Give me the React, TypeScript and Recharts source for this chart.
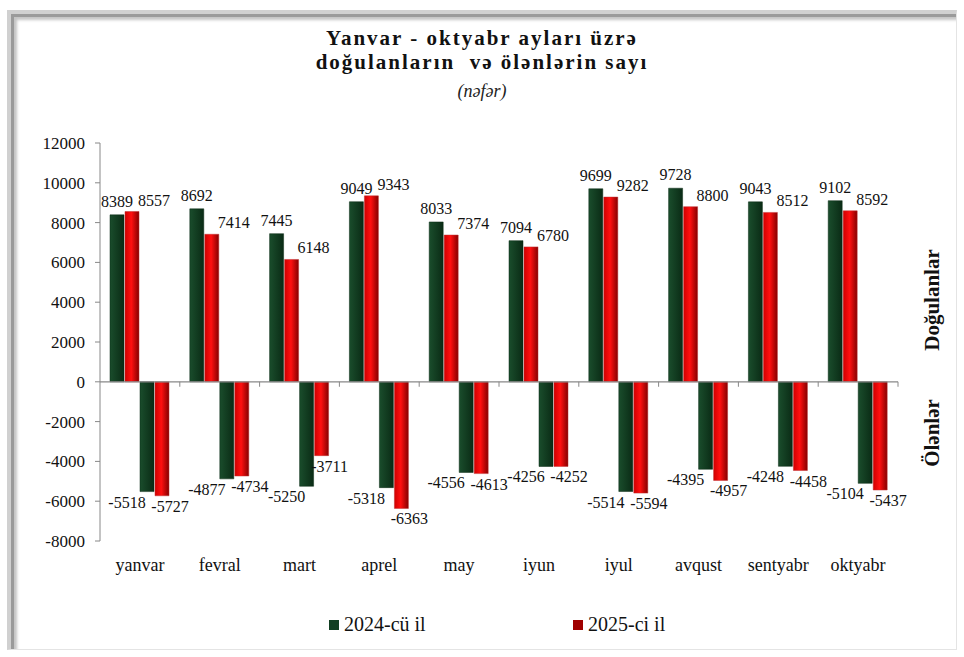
import { BarChart, Bar, XAxis, YAxis, ReferenceLine, LabelList } from 'recharts';

const months = ['yanvar', 'fevral', 'mart', 'aprel', 'may', 'iyun', 'iyul', 'avqust', 'sentyabr', 'oktyabr'];
const births2024 = [8389, 8692, 7445, 9049, 8033, 7094, 9699, 9728, 9043, 9102];
const births2025 = [8557, 7414, 6148, 9343, 7374, 6780, 9282, 8800, 8512, 8592];
const deaths2024 = [-5518, -4877, -5250, -5318, -4556, -4256, -5514, -4395, -4248, -5104];
const deaths2025 = [-5727, -4734, -3711, -6363, -4613, -4252, -5594, -4957, -4458, -5437];
const yTicks = [-8000, -6000, -4000, -2000, 0, 2000, 4000, 6000, 8000, 10000, 12000];

const data = months.map((m, i) => ({
  month: m,
  b24: births2024[i],
  b25: births2025[i],
  d24: deaths2024[i],
  d25: deaths2025[i],
}));

const FONT = '"Liberation Serif", "Times New Roman", serif';
const GREEN = '#123f22';
const RED = '#a00000';

// label placement, roughly as Excel left them
function makeLabel(dx: number, above: boolean, dyAbove = 8) {
  return (p: any) => {
    const x = Number(p.x) + Number(p.width) / 2 + dx;
    const y = Number(p.y);
    const h = Number(p.height);
    const top = Math.min(y, y + h);
    const bottom = Math.max(y, y + h);
    return (
      <text
        x={x}
        y={above ? top - dyAbove : bottom + 16}
        textAnchor="middle"
        fontSize={16}
        fontFamily={FONT}
        fill="#111"
      >
        {p.value}
      </text>
    );
  };
}

const titleLine = {
  position: 'absolute' as const,
  left: 0,
  width: 964,
  height: 23,
  textAlign: 'center' as const,
  fontFamily: FONT,
  fontWeight: 'bold' as const,
  fontSize: 21,
  letterSpacing: 2,
  lineHeight: '23px',
  color: '#111',
  whiteSpace: 'pre' as const,
};

export default function App() {
  return (
    <div style={{ position: 'absolute', left: 0, top: 0, width: 964, height: 657, background: '#fff', fontFamily: FONT }}>
      {/* bevelled frame */}
      <div
        style={{
          position: 'absolute',
          left: 7,
          top: 10,
          width: 950,
          height: 640,
          borderLeft: '4px solid #d0d0d0',
          borderTop: '4px solid #d0d0d0',
          borderRight: '1px solid #e4e4e4',
          borderBottom: '1px solid #e4e4e4',
          boxSizing: 'border-box',
        }}
      >
        <div
          style={{
            position: 'absolute',
            left: 0,
            top: 0,
            right: 0,
            bottom: 0,
            borderLeft: '3px solid #9a9a9a',
            borderTop: '3px solid #9a9a9a',
            boxShadow: 'inset 3px 3px 3px #c4c4c4',
          }}
        />
      </div>

      <div style={{ ...titleLine, top: 27 }}>Yanvar - oktyabr ayları üzrə</div>
      <div style={{ ...titleLine, top: 51 }}>doğulanların  və ölənlərin sayı</div>
      <div style={{ position: 'absolute', left: 0, width: 964, top: 81, lineHeight: '20px', textAlign: 'center', fontFamily: FONT, fontStyle: 'italic', fontSize: 18, color: '#222' }}>
        (nəfər)
      </div>

      <div style={{ position: 'absolute', left: 0, top: 0 }}>
        <BarChart
          width={964}
          height={657}
          data={data}
          margin={{ top: 143, right: 66, bottom: 86, left: 40 }}
          barSize={14}
          barGap={1}
        >
          <defs>
            <linearGradient id="gGreen" x1="0" y1="0" x2="1" y2="0">
              <stop offset="0%" stopColor="#1a4d2c" />
              <stop offset="100%" stopColor="#0a2b15" />
            </linearGradient>
            <linearGradient id="gRed" x1="0" y1="0" x2="1" y2="0">
              <stop offset="0%" stopColor="#d00000" />
              <stop offset="45%" stopColor="#ff1010" />
              <stop offset="100%" stopColor="#850000" />
            </linearGradient>
          </defs>
          <XAxis
            dataKey="month"
            axisLine={false}
            tickLine={false}
            tickSize={0}
            tickMargin={17}
            height={30}
            interval={0}
            tick={{ fontSize: 18, fill: '#111', fontFamily: FONT }}
          />
          <YAxis
            domain={[-8000, 12000]}
            ticks={yTicks}
            width={60}
            tickSize={5}
            tickMargin={10}
            stroke="#888"
            tick={{ fontSize: 17, fill: '#111', fontFamily: FONT }}
            interval={0}
          />
          <Bar dataKey="b24" fill="url(#gGreen)" stroke="#0a2a14" strokeWidth={0.5} isAnimationActive={false}>
            <LabelList dataKey="b24" content={makeLabel(0, true)} />
          </Bar>
          <Bar dataKey="b25" fill="url(#gRed)" stroke="#c03030" strokeWidth={0.5} isAnimationActive={false}>
            <LabelList dataKey="b25" content={makeLabel(22, true, 6)} />
          </Bar>
          <Bar dataKey="d24" fill="url(#gGreen)" stroke="#0a2a14" strokeWidth={0.5} isAnimationActive={false}>
            <LabelList dataKey="d24" content={makeLabel(-20, false)} />
          </Bar>
          <Bar dataKey="d25" fill="url(#gRed)" stroke="#c03030" strokeWidth={0.5} isAnimationActive={false}>
            <LabelList dataKey="d25" content={makeLabel(8, false)} />
          </Bar>
          <ReferenceLine y={0} stroke="#888" strokeWidth={1.2} />
          {months.slice(1).map((m) => (
            <ReferenceLine
              key={m}
              segment={[{ x: m, y: 0 }, { x: m, y: -250 }]}
              position="start"
              stroke="#888"
            />
          ))}
          <ReferenceLine
            segment={[{ x: months[months.length - 1], y: 0 }, { x: months[months.length - 1], y: -250 }]}
            position="end"
            stroke="#888"
          />
        </BarChart>
      </div>

      <div style={{ position: 'absolute', left: 923, top: 300, width: 0, height: 0 }}>
        <div style={{ position: 'absolute', transform: 'translate(-50%, -50%) rotate(-90deg)', whiteSpace: 'nowrap', fontFamily: FONT, fontWeight: 'bold', fontSize: 21, color: '#111', left: 9 }}>
          Doğulanlar
        </div>
      </div>
      <div style={{ position: 'absolute', left: 923, top: 433, width: 0, height: 0 }}>
        <div style={{ position: 'absolute', transform: 'translate(-50%, -50%) rotate(-90deg)', whiteSpace: 'nowrap', fontFamily: FONT, fontWeight: 'bold', fontSize: 21, color: '#111', left: 9 }}>
          Ölənlər
        </div>
      </div>

      <div style={{ position: 'absolute', left: 329, top: 613, display: 'flex', alignItems: 'center', fontFamily: FONT, fontSize: 20, color: '#111' }}>
        <span style={{ width: 10, height: 10, background: GREEN, marginRight: 5, display: 'inline-block' }} />
        2024-cü il
      </div>
      <div style={{ position: 'absolute', left: 573, top: 613, display: 'flex', alignItems: 'center', fontFamily: FONT, fontSize: 20, color: '#111' }}>
        <span style={{ width: 10, height: 10, background: RED, marginRight: 5, display: 'inline-block' }} />
        2025-ci il
      </div>
    </div>
  );
}
